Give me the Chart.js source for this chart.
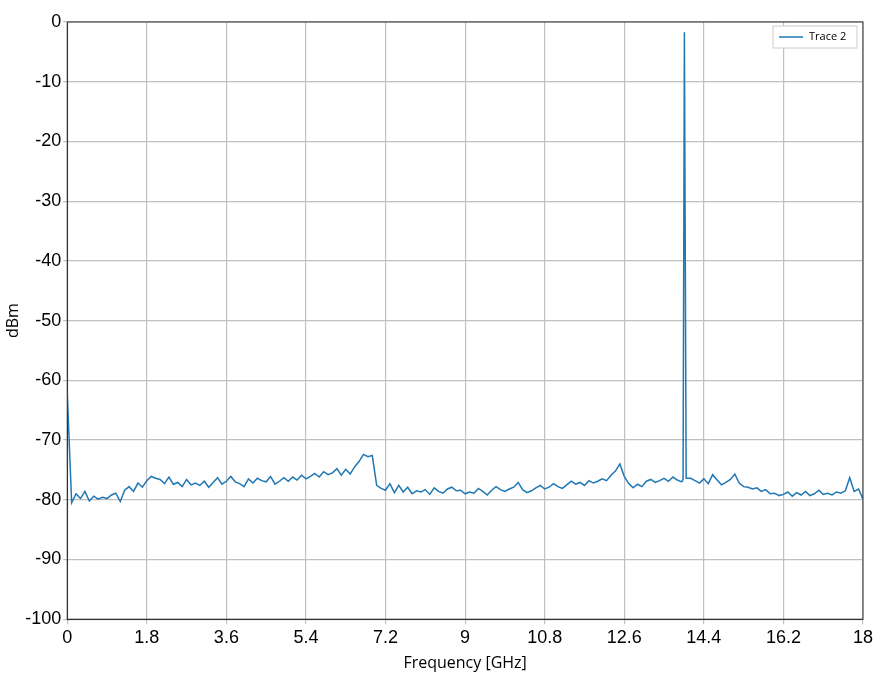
<!DOCTYPE html>
<html><head><script src="https://cdn.jsdelivr.net/npm/chart.js@4"></script>
<style>body{margin:0;background:#fff}#w{width:896px;height:687px}</style></head>
<body><div id="w"><canvas id="c"></canvas></div>
<script>
const xStart = 0, xStep = 0.1;
const traceValues = [
-62,-80.5,-79,-79.8,-78.6,-80.2,-79.4,-79.9,-79.6,-79.8,
-79.2,-78.9,-80.3,-78.4,-77.8,-78.6,-77.2,-77.9,-76.8,-76.1,
-76.4,-76.6,-77.3,-76.2,-77.4,-77.1,-77.8,-76.6,-77.5,-77.2,
-77.6,-76.9,-77.9,-77.1,-76.3,-77.4,-76.9,-76.1,-77.0,-77.3,
-77.8,-76.5,-77.2,-76.4,-76.8,-77.0,-76.1,-77.4,-76.9,-76.3,
-76.9,-76.2,-76.7,-75.9,-76.5,-76.1,-75.6,-76.2,-75.3,-75.8,
-75.5,-74.8,-75.9,-74.9,-75.7,-74.5,-73.6,-72.4,-72.8,-72.6,
-77.6,-78.1,-78.4,-77.3,-78.8,-77.6,-78.7,-77.9,-79.0,-78.5,
-78.7,-78.3,-79.1,-78.0,-78.6,-78.9,-78.2,-77.9,-78.5,-78.4,
-79.0,-78.7,-78.9,-78.1,-78.6,-79.2,-78.4,-77.8,-78.3,-78.6,
-78.2,-77.9,-77.1,-78.3,-78.8,-78.5,-78.0,-77.6,-78.2,-77.9,
-77.3,-77.8,-78.1,-77.5,-76.9,-77.4,-77.1,-77.6,-76.8,-77.2,
-76.9,-76.5,-76.8,-75.9,-75.2,-74.0,-76.1,-77.3,-78.0,-77.4,
-77.8,-76.9,-76.6,-77.1,-76.8,-76.4,-76.9,-76.2,-76.7,-77.0,
-1.7,-76.4,-76.8,-77.2,-76.5,-77.3,-75.8,-76.7,-77.5,-77.1,
-76.6,-75.7,-77.2,-77.8,-77.9,-78.2,-78.0,-78.6,-78.3,-79.0,
-78.9,-79.3,-79.1,-78.7,-79.4,-78.8,-79.2,-78.6,-79.3,-79.0,
-78.4,-79.1,-78.9,-79.2,-78.7,-78.9,-78.5,-76.3,-78.6,-78.2,
-79.9];
const spikeEdges = [[13.93,-76.6],[13.96,-1.7],[13.97,-1.7],[14.0,-76.4]];
const yTicks = [0,-10,-20,-30,-40,-50,-60,-70,-80,-90,-100];
const xTicks = [0,1.8,3.6,5.4,7.2,9,10.8,12.6,14.4,16.2,18];

let pts = traceValues.map((v,i)=>({x:+(xStart+i*xStep).toFixed(2),y:v})).filter(p=>p.x!==14.0);
pts = pts.concat(spikeEdges.map(p=>({x:p[0],y:p[1]}))).sort((a,b)=>a.x-b.x);

new Chart(document.getElementById('c'),{
 type:'line',
 data:{datasets:[{label:'Trace 2',data:pts,borderColor:'#1f77b4',backgroundColor:'#1f77b4',borderWidth:1.5,pointRadius:0,tension:0}]},
 options:{responsive:true,maintainAspectRatio:false,animation:false,
  layout:{padding:{top:22,right:33,left:0,bottom:10}},
  plugins:{legend:{display:false},tooltip:{enabled:false}},
  scales:{
   x:{type:'linear',min:0,max:18,afterBuildTicks:a=>{a.ticks=xTicks.map(v=>({value:v}))},
      ticks:{font:{size:18,family:'Liberation Sans'},color:'#000',maxRotation:0},
      grid:{color:'#c0c0c0',lineWidth:1.2,drawTicks:true,tickLength:5},border:{color:'#333'},
      title:{display:true,text:'Frequency [GHz]',font:{size:16,family:'Open Sans'},color:'#000',padding:{top:2}}},
   y:{min:-100,max:0,afterBuildTicks:a=>{a.ticks=yTicks.map(v=>({value:v}))},
      ticks:{font:{size:18,family:'Liberation Sans'},color:'#000',padding:2},
      grid:{color:'#c0c0c0',lineWidth:1.2,tickLength:4},border:{color:'#333'},
      title:{display:true,text:'dBm',font:{size:16,family:'Open Sans'},color:'#000',padding:{bottom:0}}}
  }},
 plugins:[{id:'box',afterDraw(ch){const a=ch.chartArea,c=ch.ctx;c.save();c.strokeStyle='#333';c.lineWidth=1;c.strokeRect(a.left,a.top,a.right-a.left,a.bottom-a.top);
  const x=a.right-90,y=a.top+4,w=84;c.fillStyle='#fff';c.strokeStyle='#ccc';c.fillRect(x,y,w,22);c.strokeRect(x,y,w,22);
  c.strokeStyle='#1f77b4';c.lineWidth=1.5;c.beginPath();c.moveTo(x+6,y+11);c.lineTo(x+30,y+11);c.stroke();
  c.fillStyle='#000';c.font='11px "Open Sans"';c.textBaseline='middle';c.fillText(ch.data.datasets[0].label,x+36,y+11);c.restore();}}]
});
</script></body></html>
